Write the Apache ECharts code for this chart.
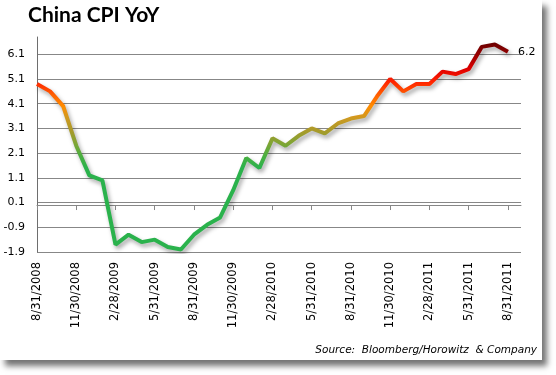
<!DOCTYPE html>
<html><head><meta charset="utf-8">
<script src="https://cdn.jsdelivr.net/npm/echarts@6/dist/echarts.min.js"></script>
<style>
html,body{margin:0;padding:0;background:#fff;}
#card{position:absolute;left:0;top:0;width:542px;height:360px;background:#fff;box-shadow:5px 6px 6px rgba(0,0,0,0.55);}
#chart{position:absolute;left:0;top:0;width:556px;height:375px;}
</style></head>
<body>
<div id="card"></div>
<div id="chart"></div>
<script>
const categories = [
 '8/31/2008','9/30/2008','10/31/2008','11/30/2008','12/31/2008','1/31/2009','2/28/2009','3/31/2009','4/30/2009','5/31/2009','6/30/2009','7/31/2009',
 '8/31/2009','9/30/2009','10/31/2009','11/30/2009','12/31/2009','1/31/2010','2/28/2010','3/31/2010','4/30/2010','5/31/2010','6/30/2010','7/31/2010',
 '8/31/2010','9/30/2010','10/31/2010','11/30/2010','12/31/2010','1/31/2011','2/28/2011','3/31/2011','4/30/2011','5/31/2011','6/30/2011','7/31/2011',
 '8/31/2011','9/30/2011'
];
const cpiYoY = [4.9,4.6,4.0,2.4,1.2,1.0,-1.6,-1.2,-1.5,-1.4,-1.7,-1.8,
 -1.2,-0.8,-0.5,0.6,1.9,1.5,2.7,2.4,2.8,3.1,2.9,3.3,
 3.5,3.6,4.4,5.1,4.6,4.9,4.9,5.4,5.3,5.5,6.4,6.5,6.2];
const yTicks = ['-1.9','-0.9','0.1','1.1','2.1','3.1','4.1','5.1','6.1'];
const titleText = 'China CPI YoY';
const sourceText = 'Source:  Bloomberg/Horowitz  & Company';

const chart = echarts.init(document.getElementById('chart'), null, {renderer:'canvas'});
const gridColor = '#878787';
const splitColors = yTicks.map(()=>gridColor).concat(['rgba(0,0,0,0)']);
chart.setOption({
  backgroundColor: 'transparent',
  animation: false,
  title: {text: titleText, left: 23, top: 0,
    textStyle: {fontFamily: 'Lato', fontWeight: 'bold', fontSize: 21, color: '#000'}},
  graphic: [{type:'text', right: 19, top: 345,
    style: {text: sourceText, font: 'italic 10.5px "DejaVu Sans"', fill: '#000', textAlign: 'right'}}],
  grid: {left: 37, right: 35, top: 37, bottom: 123, containLabel: false},
  visualMap: {type: 'continuous', show: false, dimension: 1, seriesIndex: 0,
    min: 1.5, max: 6.5,
    inRange: {color: ['#2ab24c','#4caf40','#80a434','#a89a2a','#cc9a22','#ff8c00','#ff5a00','#ff2200','#e00000','#a00000','#700000']}},
  xAxis: [{
    type: 'category', data: categories, boundaryGap: false, position: 'bottom',
    axisLine: {show: false, onZero: false}, axisTick: {show: false},
    axisLabel: {interval: 2, rotate: 90, margin: 10, fontFamily: 'DejaVu Sans', fontSize: 11.5, color: '#000'},
    splitLine: {show: false}
  },{
    type: 'category', data: categories, boundaryGap: false, position: 'top',
    axisLine: {show: true, onZero: true, lineStyle: {color: gridColor, width: 1}},
    axisTick: {show: true, inside: true, interval: 2, length: 5, lineStyle: {color: gridColor}},
    axisLabel: {show: false}, splitLine: {show: false}
  }],
  yAxis: {
    type: 'value', min: -1.9, max: 6.8, interval: 1,
    axisLine: {show: true, lineStyle: {color: '#6e6e6e'}}, axisTick: {show: false},
    axisLabel: {showMaxLabel: false, margin: 12, fontFamily: 'DejaVu Sans', fontSize: 11, color: '#000',
      formatter: v => v.toFixed(1)},
    splitLine: {show: true, lineStyle: {color: splitColors, width: 1}}
  },
  series: [{
    type: 'line', data: cpiYoY, xAxisIndex: 0, symbol: 'none', smooth: false,
    lineStyle: {width: 4, shadowColor: 'rgba(0,0,0,0.35)', shadowBlur: 4, shadowOffsetX: 2, shadowOffsetY: 3},
    endLabel: {show: true, formatter: p => Number(p.value).toFixed(1), distance: 10,
      fontFamily: 'DejaVu Sans', fontSize: 11, color: '#000'}
  }]
});
</script>
</body></html>
